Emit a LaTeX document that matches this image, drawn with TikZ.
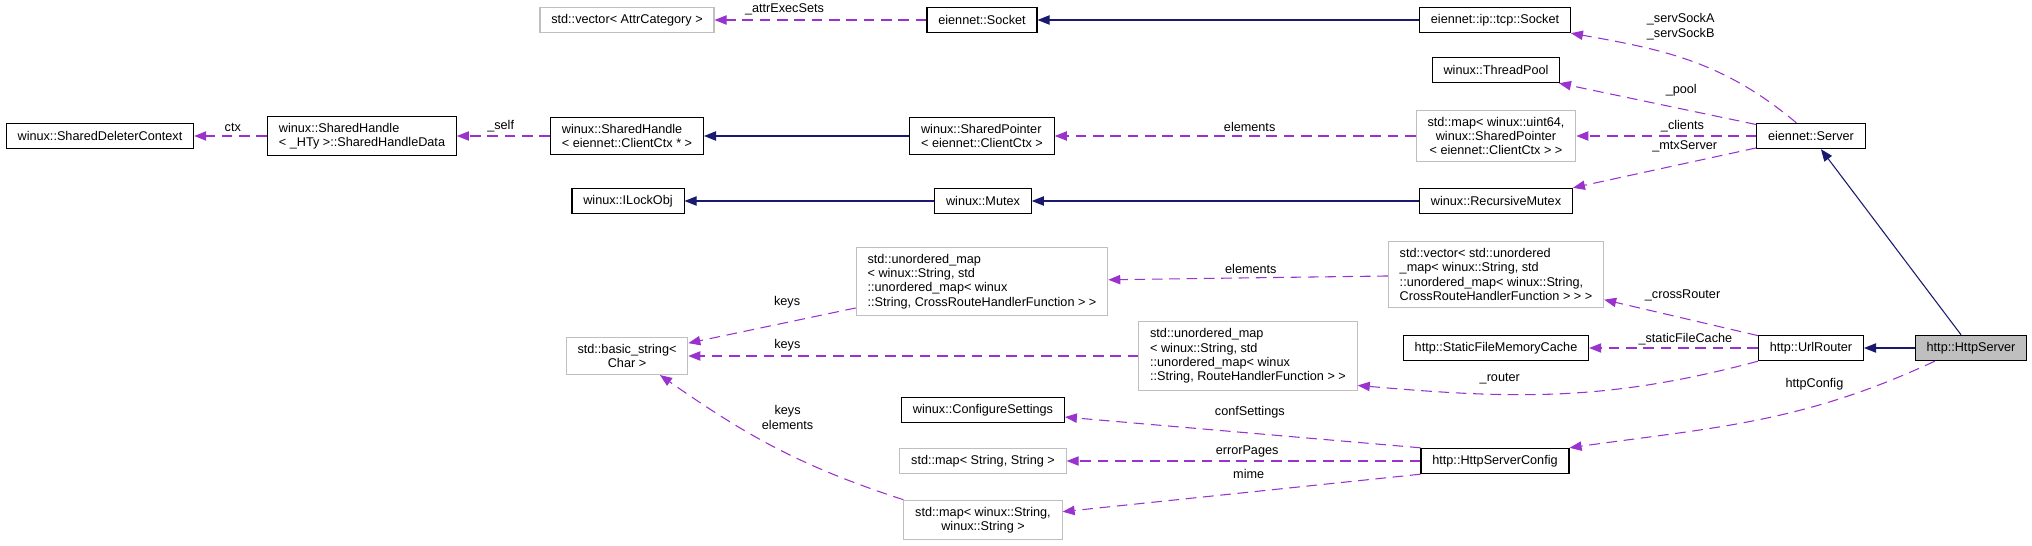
\documentclass[tikz,border=0pt]{standalone}
\usepackage{fontspec}
\setmainfont{Liberation Sans}
\usetikzlibrary{arrows.meta}
\definecolor{orchid}{HTML}{9A32CD}
\definecolor{midnight}{HTML}{191970}
\definecolor{boxgrey}{HTML}{BFBFBF}
\tikzstyle{cls} = [rectangle, draw=black, fill=white, line width=0.8pt, font=\fontsize{9.5}{10.8}\selectfont, inner xsep=8.5pt, inner ysep=5pt, minimum height=19pt, align=center]
\tikzstyle{ext} = [cls, draw=boxgrey]
\tikzstyle{cur} = [cls, fill=boxgrey]
\tikzstyle{lbl} = [font=\fontsize{9.5}{10.8}\selectfont, inner sep=1pt, align=center]
\tikzstyle{derive} = [line width=0.8pt, draw=midnight, ->, >={Triangle[length=9pt,width=7pt]}]
\tikzstyle{member} = [line width=0.8pt, draw=orchid, dash pattern=on 8pt off 5pt, ->, >={Triangle[length=9pt,width=7pt]}]

\begin{document}
\begin{tikzpicture}[x=0.75pt, y=-0.75pt] % units are px of the layout, y grows downwards
    \useasboundingbox (0,0) rectangle (2032,546);
    % sockets and server
    \node (vattr) [ext] at (627,20) {std::vector< AttrCategory >};
    \node (sock) [cls] at (982,20) {eiennet::Socket};
    \node (tcp) [cls] at (1495,20) {eiennet::ip::tcp::Socket};
    \node (pool) [cls] at (1496,70) {winux::ThreadPool};
    \node (sdc) [cls] at (100,136) {winux::SharedDeleterContext};
    \node (shd) [cls, align=left] at (362,136) {winux::SharedHandle\\< \_HTy >::SharedHandleData};
    \node (shc) [cls, align=left] at (627,136) {winux::SharedHandle\\< eiennet::ClientCtx * >};
    \node (spc) [cls, align=left] at (982,136) {winux::SharedPointer\\< eiennet::ClientCtx >};
    \node (cmap) [ext] at (1496,136) {std::map< winux::uint64,\\winux::SharedPointer\\< eiennet::ClientCtx > >};
    \node (srv) [cls] at (1811,136) {eiennet::Server};
    \node (ilock) [cls] at (628,201) {winux::ILockObj};
    \node (mtx) [cls] at (983,201) {winux::Mutex};
    \node (rmtx) [cls] at (1496,201) {winux::RecursiveMutex};
    % routing
    \node (xmap) [ext, align=left] at (982,281.5) {std::unordered\_map\\< winux::String, std\\::unordered\_map< winux\\::String, CrossRouteHandlerFunction > >};
    \node (xvec) [ext, align=left] at (1496,274.5) {std::vector< std::unordered\\\_map< winux::String, std\\::unordered\_map< winux::String,\\CrossRouteHandlerFunction > > >};
    \node (bstr) [ext] at (627,356) {std::basic\_string<\\Char >};
    \node (rmap) [ext, align=left] at (1248,356) {std::unordered\_map\\< winux::String, std\\::unordered\_map< winux\\::String, RouteHandlerFunction > >};
    \node (cache) [cls] at (1496,348) {http::StaticFileMemoryCache};
    \node (router) [cls] at (1811,348) {http::UrlRouter};
    \node (hsrv) [cur] at (1971,348) {http::HttpServer};
    % config
    \node (conf) [cls] at (983,410) {winux::ConfigureSettings};
    \node (epg) [ext] at (983,461) {std::map< String, String >};
    \node (mime) [ext] at (983,520) {std::map< winux::String,\\winux::String >};
    \node (hcfg) [cls] at (1495,461) {http::HttpServerConfig};

    \draw [derive] (tcp) -- (sock);
    \draw [derive] (spc) -- (shc);
    \draw [derive] (rmtx) -- (mtx);
    \draw [derive] (mtx) -- (ilock);
    \draw [derive] (hsrv) -- (router);
    \draw [derive] (hsrv) -- (srv);

    \draw [member] (sock) -- node[lbl, pos=0.67, above=2pt] {\_attrExecSets} (vattr);
    \draw [member] (shd) -- node[lbl, pos=0.47, above=2pt] {ctx} (sdc);
    \draw [member] (shc) -- node[lbl, pos=0.53, above=1.5pt] {\_self} (shd);
    \draw [member] (cmap) -- node[lbl, pos=0.46, above=2pt] {elements} (spc);
    \draw [member] (srv.138) to[out=140, in=-10] node[lbl, pos=0.55, above=12pt] {\_servSockA\\\_servSockB} (tcp.south east);
    \draw [member] (srv) -- node[lbl, pos=0.38, above=8pt] {\_pool} (pool);
    \draw [member] (srv) -- node[lbl, pos=0.41, above=1.5pt] {\_clients} (cmap);
    \draw [member] (srv) -- node[lbl, pos=0.39, above=7pt] {\_mtxServer} (rmtx.north east);
    \draw [member] (xvec) -- node[lbl, pos=0.49, above=2pt] {elements} (xmap);
    \draw [member] (xmap) -- node[lbl, pos=0.41, above=9pt] {keys} (bstr);
    \draw [member] (rmap) -- node[lbl, pos=0.78, above=2pt] {keys} (bstr);
    \draw [member] (mime.north west) to[out=162, in=-35] node[lbl, pos=0.45, above=17pt] {keys\\elements} (bstr.-30);
    \draw [member] (router) -- node[lbl, pos=0.49, above=11pt] {\_crossRouter} (xvec);
    \draw [member] (router) -- node[lbl, pos=0.43, above=1pt] {\_staticFileCache} (cache);
    \draw [member] (router.south west) to[out=195, in=-5] node[lbl, pos=0.66, above=6pt] {\_router} (rmap.-15);
    \draw [member] (hsrv.200) to[out=205, in=8] node[lbl, pos=0.33, above=11pt] {httpConfig} (hcfg.north east);
    \draw [member] (hcfg.north west) -- node[lbl, pos=0.48, above=10pt] {confSettings} (conf);
    \draw [member] (hcfg) -- node[lbl, pos=0.49, above=1.5pt] {errorPages} (epg);
    \draw [member] (hcfg.south west) -- node[lbl, pos=0.48, above=9pt] {mime} (mime);
\end{tikzpicture}
\end{document}
